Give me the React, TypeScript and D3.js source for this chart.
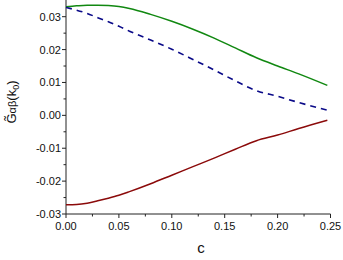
import { useRef, useEffect } from "react";
import * as d3 from "d3";

const cValues = [0, 0.01, 0.02, 0.03, 0.04, 0.05, 0.06, 0.08, 0.1, 0.12, 0.14, 0.16, 0.18, 0.2, 0.22, 0.247];
const greenValues = [0.033, 0.0333, 0.0335, 0.0335, 0.0334, 0.0331, 0.0325, 0.0307, 0.0286, 0.0262, 0.0235, 0.0205, 0.0175, 0.015, 0.0126, 0.0091];
const blueValues = [0.0328, 0.032, 0.031, 0.0297, 0.0285, 0.0271, 0.0256, 0.0229, 0.0201, 0.017, 0.0138, 0.0105, 0.0075, 0.0058, 0.0039, 0.0016];
const redValues = [-0.0272, -0.0271, -0.0267, -0.026, -0.0252, -0.0243, -0.0232, -0.0208, -0.0182, -0.0156, -0.013, -0.0103, -0.0077, -0.006, -0.004, -0.0015];

const xTicks = [0, 0.05, 0.1, 0.15, 0.2, 0.25];
const yTicks = [-0.03, -0.02, -0.01, 0, 0.01, 0.02, 0.03];

const Chart: React.FC = () => {
    const svgRef = useRef<SVGSVGElement | null>(null);

    useEffect(() => {
        if (!svgRef.current) return;
        document.body.style.margin = "0";
        document.body.style.overflow = "hidden";

        const width = 343;
        const height = 260;
        const x = d3.scaleLinear().domain([0, 0.25]).range([66, 330.5]);
        const y = d3.scaleLinear().domain([-0.03, 0.03]).range([214, 16.7]);

        const svg = d3.select(svgRef.current);
        svg.selectAll("*").remove();
        svg.attr("width", width).attr("height", height)
            .style("display", "block")
            .style("font-family", "Liberation Sans, Arial, sans-serif");

        const line = (vals: number[]) =>
            d3.line<number>()
                .x((_d, i) => x(cValues[i]))
                .y((d) => y(d))
                .curve(d3.curveMonotoneX)(vals);

        // axes
        const axisColor = "#222";
        svg.append("line").attr("x1", x(0)).attr("x2", x(0))
            .attr("y1", 0).attr("y2", y(-0.03)).attr("stroke", axisColor);
        svg.append("line").attr("x1", x(0)).attr("x2", x(0.25))
            .attr("y1", y(-0.03)).attr("y2", y(-0.03)).attr("stroke", axisColor);

        const yMinor = d3.range(-0.03, 0.035, 0.005);
        svg.append("g").selectAll("line").data(yMinor).join("line")
            .attr("x1", x(0)).attr("x2", (_d, i) => x(0) - (i % 2 === 0 ? 4 : 2.5))
            .attr("y1", (d) => y(d)).attr("y2", (d) => y(d))
            .attr("stroke", axisColor);
        const xMinor = d3.range(0, 0.2501, 0.025);
        svg.append("g").selectAll("line").data(xMinor).join("line")
            .attr("x1", (d) => x(d)).attr("x2", (d) => x(d))
            .attr("y1", y(-0.03)).attr("y2", (_d, i) => y(-0.03) + (i % 2 === 0 ? 4 : 2.5))
            .attr("stroke", axisColor);

        svg.append("g").selectAll("text").data(yTicks).join("text")
            .attr("x", x(0) - 5).attr("y", (d) => y(d) + 4)
            .attr("text-anchor", "end").attr("font-size", 11)
            .attr("fill", "#111")
            .text((d) => d3.format(".2f")(d).replace("−", "-"));
        svg.append("g").selectAll("text").data(xTicks).join("text")
            .attr("x", (d) => x(d)).attr("y", y(-0.03) + 16)
            .attr("text-anchor", "middle").attr("font-size", 11)
            .attr("fill", "#111")
            .text((d) => d3.format(".2f")(d));

        svg.append("text").attr("x", 201).attr("y", 253)
            .attr("text-anchor", "middle").attr("font-size", 15)
            .attr("fill", "#111").text("c");

        const yl = svg.append("text")
            .attr("transform", "translate(16,102) rotate(-90)")
            .attr("text-anchor", "middle").attr("font-size", 13)
            .attr("fill", "#111");
        yl.append("tspan").text("G\u0303");
        yl.append("tspan").attr("font-size", 11).text("αβ");
        yl.append("tspan").text("(k");
        yl.append("tspan").attr("font-size", 9).attr("dy", 3).text("0");
        yl.append("tspan").attr("dy", -3).text(")");

        svg.append("path").attr("d", line(greenValues))
            .attr("fill", "none").attr("stroke", "#118811").attr("stroke-width", 1.5);
        svg.append("path").attr("d", line(blueValues))
            .attr("fill", "none").attr("stroke", "#0a0a88").attr("stroke-width", 1.6)
            .attr("stroke-dasharray", "6,5");
        svg.append("path").attr("d", line(redValues))
            .attr("fill", "none").attr("stroke", "#8b0a0a").attr("stroke-width", 1.5);
    }, []);

    return <svg ref={svgRef} />;
};

export default function App() {
    return <Chart />;
}
